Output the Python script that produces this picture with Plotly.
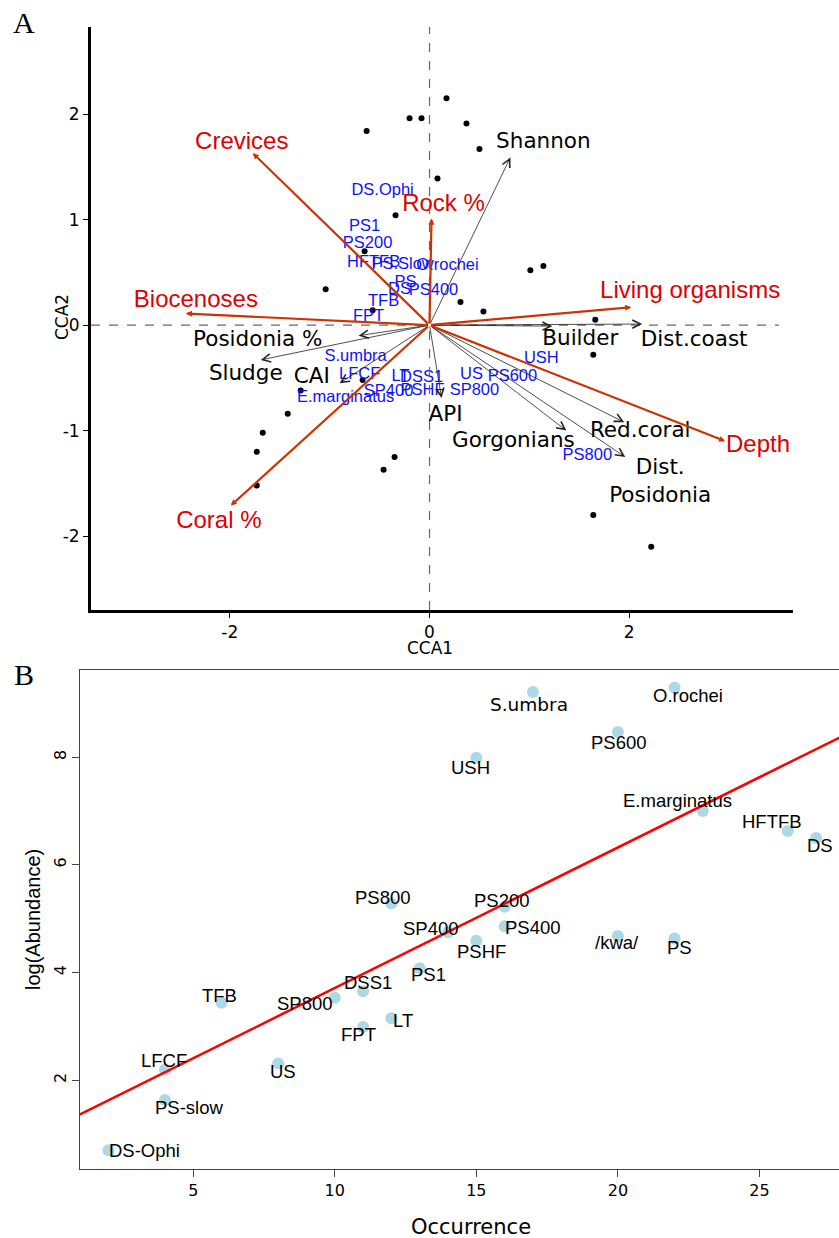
import numpy as np
import plotly.graph_objects as go

W, H = 839, 1238

# ---- panel A: CCA biplot ----
site_x = [0.17, -0.20, -0.08, -0.63, 0.37, 0.50, 0.08, -0.34, -0.65, -1.04, 0.31, 0.54, -0.57, 1.01,
          1.14, 1.66, 1.64, 1.64, 2.22, -0.67, -1.29, -1.42, -1.67, -1.73, -1.73, -0.35, -0.46]
site_y = [2.15, 1.96, 1.96, 1.84, 1.91, 1.67, 1.39, 1.04, 0.70, 0.34, 0.22, 0.13, 0.14, 0.52,
          0.56, 0.05, -0.28, -1.80, -2.10, -0.52, -0.62, -0.84, -1.02, -1.20, -1.52, -1.25, -1.37]

species = ["DS.Ophi", "PS1", "PS200", "HFTFB", "PS.Slow", "O.rochei", "PS", "DS", "PS400", "TFB", "FPT",
           "S.umbra", "LFCF", "LT", "DSS1", "SP400", "PSHF", "E.marginatus", "US", "PS600", "SP800",
           "USH", "PS800"]
species_x = [-0.47, -0.65, -0.62, -0.56, -0.27, 0.18, -0.24, -0.30, 0.04, -0.46, -0.61,
             -0.74, -0.70, -0.29, -0.08, -0.41, -0.07, -0.84, 0.42, 0.83, 0.45, 1.12, 1.58]
species_y = [1.27, 0.93, 0.77, 0.59, 0.57, 0.56, 0.40, 0.33, 0.32, 0.22, 0.08,
             -0.30, -0.47, -0.49, -0.50, -0.63, -0.62, -0.69, -0.47, -0.49, -0.62, -0.32, -1.24]

# main environmental variables (red)
env_red = ["Crevices", "Rock %", "Biocenoses", "Living organisms", "Depth", "Coral %"]
env_red_x = [-1.77, 0.02, -2.44, 2.02, 2.96, -1.99]
env_red_y = [1.63, 1.01, 0.11, 0.17, -1.10, -1.71]
env_red_lab_x = [-1.88, 0.14, -2.34, 2.61, 3.29, -2.11]
env_red_lab_y = [1.73, 1.14, 0.23, 0.31, -1.15, -1.87]

# other variables (black)
env_blk = ["Shannon", "Dist.coast", "Builder", "API", "Gorgonians", "Red.coral", "Dist.<br>Posidonia",
           "Posidonia %", "Sludge", "CAI"]
env_blk_x = [0.81, 2.13, 1.23, 0.12, 1.37, 1.95, 1.96, -0.71, -1.69, -0.90]
env_blk_y = [1.59, 0.01, -0.01, -0.69, -1.00, -0.92, -1.25, -0.10, -0.33, -0.55]
env_blk_lab_x = [1.14, 2.65, 1.51, 0.16, 0.84, 2.11, 2.31, -1.72, -1.84, -1.18]
env_blk_lab_y = [1.73, -0.15, -0.14, -0.86, -1.10, -1.01, -1.49, -0.15, -0.47, -0.50]

cca_ticks = [-2, -1, 0, 1, 2]
cca_tick_text = ["-2", "-1", "0", "1", "2"]

# ---- panel B: occurrence vs log(abundance) ----
taxa = ["DS-Ophi", "PS-slow", "LFCF", "TFB", "US", "SP800", "DSS1", "FPT", "LT", "PS1", "SP400", "PSHF",
        "PS200", "PS400", "/kwa/", "PS", "E.marginatus", "HFTFB", "DS", "USH", "PS600", "S.umbra",
        "O.rochei", "PS800"]
occurrence = [2, 4, 4, 6, 8, 10, 11, 11, 12, 13, 14, 15, 16, 16, 20, 22, 23, 26, 27, 15, 20, 17, 22, 12]
log_abund = [0.70, 1.63, 2.20, 3.44, 2.31, 3.53, 3.65, 2.99, 3.15, 4.08, 4.75, 4.59, 5.22, 4.86, 4.68,
             4.63, 7.00, 6.63, 6.50, 7.99, 8.47, 9.21, 9.29, 5.28]

# label offsets in pixels (dx right, dy down) for panel B
lab_off = [(36, 0), (24, 7), (-1, -9), (-2, -7), (5, 8), (-30, 6), (5, -9), (-5, 8), (12, 2), (9, 6),
           (-17, -4), (5, 11), (-3, -6), (28, 1), (-1, 7), (5, 9), (-25, -11), (-16, -9), (4, 8),
           (-6, 10), (1, 11), (-4, 12), (13, 8), (-8, -6)]

RED_ARROW = "#cc3300"
RED_TEXT = "#dd0000"
SANS = "Liberation Sans"
DV = "DejaVu Sans"

fig = go.Figure()

fig.add_trace(go.Scatter(x=site_x, y=site_y, mode="markers",
                         marker=dict(color="black", size=6), xaxis="x", yaxis="y"))
fig.add_trace(go.Scatter(x=species_x, y=species_y, mode="text", text=species,
                         textfont=dict(family=SANS, size=16.5, color="#1010ff"),
                         xaxis="x", yaxis="y", cliponaxis=False))
fig.add_trace(go.Scatter(x=env_red_lab_x, y=env_red_lab_y, mode="text", text=env_red,
                         textfont=dict(family=SANS, size=24, color=RED_TEXT),
                         xaxis="x", yaxis="y", cliponaxis=False))
fig.add_trace(go.Scatter(x=env_blk_lab_x, y=env_blk_lab_y, mode="text", text=env_blk,
                         textfont=dict(family=DV, size=21.5, color="black"),
                         xaxis="x", yaxis="y", cliponaxis=False))

annotations = []
for tx, ty in zip(env_blk_x, env_blk_y):
    annotations.append(dict(x=tx, y=ty, ax=0, ay=0, xref="x", yref="y", axref="x", ayref="y",
                            text="", showarrow=True, arrowhead=5, arrowsize=2.0,
                            arrowwidth=0.8, arrowcolor="#222"))
for tx, ty in zip(env_red_x, env_red_y):
    annotations.append(dict(x=tx, y=ty, ax=0, ay=0, xref="x", yref="y", axref="x", ayref="y",
                            text="", showarrow=True, arrowhead=2, arrowsize=0.55,
                            arrowwidth=2.2, arrowcolor=RED_ARROW))

# panel B points, fit line and labels
fig.add_trace(go.Scatter(x=occurrence, y=log_abund, mode="markers",
                         marker=dict(color="lightblue", size=12), xaxis="x2", yaxis="y2"))
slope, intercept = np.polyfit(occurrence, log_abund, 1)
line_x = np.array([0, 30])
fig.add_trace(go.Scatter(x=line_x, y=intercept + slope * line_x, mode="lines",
                         line=dict(color="#ff0000", width=2.5), xaxis="x2", yaxis="y2"))

for name, ox, oy, (dx, dy) in zip(taxa, occurrence, log_abund, lab_off):
    fam = DV if name == "S.umbra" else SANS
    annotations.append(dict(x=ox, y=oy, xref="x2", yref="y2", text=name, showarrow=False,
                            xanchor="center", yanchor="middle",
                            xshift=dx, yshift=-dy, font=dict(family=fam, size=18.5, color="black")))


# axis titles and panel letters
def paper_text(text, px, py, size, family, angle=0):
    return dict(x=px / W, y=1 - py / H, xref="paper", yref="paper", text=text, showarrow=False,
                xanchor="center", yanchor="middle", textangle=angle,
                font=dict(family=family, size=size, color="black"))


annotations += [
    paper_text("CCA1", 430, 648, 17, DV),
    paper_text("CCA2", 62, 317, 17, DV, -90),
    paper_text("Occurrence", 471, 1227, 21, DV),
    paper_text("log(Abundance)", 33, 920, 20, SANS, -90),
    paper_text("A", 24, 22, 30, "Liberation Serif"),
    paper_text("B", 24, 674, 30, "Liberation Serif"),
]

shapes = [
    dict(type="line", xref="x", yref="y domain", x0=0, x1=0, y0=0, y1=1,
         line=dict(color="#666", width=1.2, dash="dash")),
    dict(type="line", xref="x domain", yref="y", x0=0, x1=0.98, y0=0, y1=0,
         line=dict(color="#666", width=1.2, dash="dash")),
]

axis_a = dict(showgrid=False, zeroline=False, showline=True, linecolor="black", linewidth=3,
              ticks="outside", ticklen=5, tickwidth=1, tickcolor="black",
              tickfont=dict(family=DV, size=17, color="black"))
axis_b = dict(showgrid=False, zeroline=False, showline=True, linecolor="#444", linewidth=1,
              ticks="outside", ticklen=7, tickwidth=1, tickcolor="#444",
              tickfont=dict(family=DV, size=16, color="black"))

fig.update_layout(
    width=W, height=H,
    margin=dict(l=0, r=0, t=0, b=0),
    paper_bgcolor="white", plot_bgcolor="white",
    showlegend=False,
    xaxis=dict(axis_a, domain=[91 / W, 793 / W], range=[-3.39, 3.64],
               tickvals=cca_ticks[::2], ticktext=cca_tick_text[::2], anchor="y"),
    yaxis=dict(axis_a, domain=[1 - 610 / H, 1 - 27 / H], range=[-2.70, 2.825],
               tickvals=cca_ticks, ticktext=cca_tick_text, anchor="x"),
    xaxis2=dict(axis_b, domain=[80 / W, 1], range=[1.0, 27.81], tickvals=[5, 10, 15, 20, 25],
                mirror=True, anchor="y2"),
    yaxis2=dict(axis_b, domain=[1 - 1169 / H, 1 - 670 / H], range=[0.35, 9.62],
                tickvals=[2, 4, 6, 8], tickangle=-90, anchor="x2"),
    annotations=annotations,
    shapes=shapes,
)

# drop the default page margin so the figure sits at the window's corner
fig.write_html("out.html", config={"displayModeBar": False},
               post_script="document.body.style.margin='0';")
